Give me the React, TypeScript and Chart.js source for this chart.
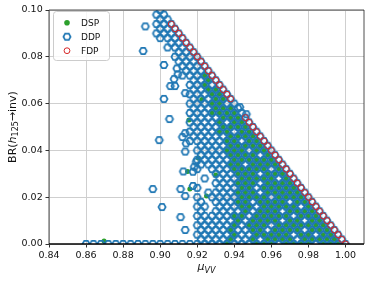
import React, { useEffect, useRef } from "react";
import { Chart, registerables } from "chart.js";

Chart.register(...registerables);

// ---- axes ----
const xRange = [0.84, 1.01];
const yRange = [0.0, 0.1];
const xTicks = [0.84, 0.86, 0.88, 0.9, 0.92, 0.94, 0.96, 0.98, 1.0];
const yTicks = [0.0, 0.02, 0.04, 0.06, 0.08, 0.1];
const seriesNames = ["DSP", "DDP", "FDP"];
const xTitleMain = "μ";
const xTitleSub = "VV";
const yTitleParts = ["BR(", "h", "125", "→inv)"];

// ---- scan lattice (rows of constant BR, cells right-anchored at the kinematic edge μ = 1 − BR) ----
// '.' empty, 'o' DDP, 'g' DDP + DSP, 'f' DDP + FDP
const latticeStep = 0.004;
const rowBR = [
  0.0, 0.002, 0.004, 0.006, 0.008, 0.01, 0.012, 0.014, 0.016, 0.018,
  0.02, 0.022, 0.024, 0.026, 0.028, 0.03, 0.032, 0.034, 0.036, 0.038,
  0.04, 0.042, 0.044, 0.046, 0.048, 0.05, 0.052, 0.054, 0.056, 0.058,
  0.06, 0.062, 0.064, 0.066, 0.068, 0.07, 0.072, 0.074, 0.076, 0.078,
  0.08, 0.082, 0.084, 0.086, 0.088, 0.09, 0.092, 0.094, 0.096, 0.098,
  0.1,
];
const gridRows = [
  "ooooooooooooooo" + "oooogooogggoggggogggf",
  "oooogoogoggggogggggf",
  "ooooogoogggggoggoggf",
  "oooogooggoggggogggf",
  "ooooogogggogggggggf",
  "ooooogoggggoggoggf",
  "oooooggogggggogggf",
  "o.oooogogggoggggf",
  "oo.oooggogggggogf",
  "o.oooggoggggoggf",
  "o.ooooggggoggggf",
  ".oooogggogggggf",
  "o..oooggogggggf",
  "..ooogggoggggf",
  ".o.ooogggggogf",
  "..ooogggogggf",
  "o.ooogggggogf",
  "ooooggoggggf",
  "oooooggggggf",
  "ooooggggogf",
  "oooogggoggf",
  "oooogggggf",
  "oooooggoggf",
  "oooooggggf",
  "ooooggoggf",
  "ooooggggf",
  "oooogoggf",
  "oooogggf",
  "oooggggo",
  "ooogggo",
  "oooggoo",
  "oooggf",
  "oooggf",
  "ooggf",
  "oogof",
  "oogf",
  "ooogf",
  "ooof",
  "ooof",
  "ooof",
  "ooof",
  "oof",
  "ooof",
  "oof",
  "ooof",
  "ooof",
  "oof",
  "oof",
  "oo",
  "oo",
  "o",
];

// ---- isolated points ----
const ddpExtraMu = [
  0.8908, 0.892, 0.902, 0.902, 0.905, 0.8995, 0.896, 0.901, 0.911, 0.911,
  0.9135, 0.9125, 0.9055, 0.908, 0.909, 0.9095, 0.9075, 0.9135, 0.912, 0.9135,
  0.9135, 0.914, 0.9135, 0.9195, 0.9184, 0.9177, 0.9177, 0.943, 0.9465,
];
const ddpExtraBr = [
  0.0825, 0.093, 0.0765, 0.062, 0.0534, 0.0444, 0.0235, 0.0158, 0.0235, 0.0115,
  0.006, 0.031, 0.0675, 0.0675, 0.075, 0.0725, 0.0705, 0.0645, 0.0457, 0.0474,
  0.0395, 0.043, 0.0205, 0.0352, 0.033, 0.0248, 0.0309, 0.0585, 0.0555,
];
const dspExtraMu = [0.8697, 0.9155, 0.9148, 0.916, 0.9206, 0.93, 0.925, 0.9225];
const dspExtraBr = [0.0013, 0.053, 0.031, 0.0235, 0.0367, 0.0295, 0.0205, 0.0618];

const colors = { dsp: "#2ca02c", ddp: "#1f77b4", fdp: "#d62728" };
const FONT = "'DejaVu Sans', sans-serif";

type P = { x: number; y: number };

function buildSeries() {
  const dsp: P[] = [];
  const ddp: P[] = [];
  const fdp: P[] = [];
  gridRows.forEach((row, k) => {
    const br = rowBR[k];
    const n = row.length;
    for (let i = 0; i < n; i++) {
      const c = row[i];
      if (c === ".") continue;
      const mu = +(1 - br - latticeStep * (n - 1 - i)).toFixed(4);
      ddp.push({ x: mu, y: br });
      if (c === "g") dsp.push({ x: mu, y: br });
      if (c === "f") fdp.push({ x: mu, y: br });
    }
  });
  ddpExtraMu.forEach((m, i) => ddp.push({ x: m, y: ddpExtraBr[i] }));
  dspExtraMu.forEach((m, i) => dsp.push({ x: m, y: dspExtraBr[i] }));
  return { dsp, ddp, fdp };
}

function makeHex(r: number, lw: number, color: string) {
  const size = 12;
  const c = document.createElement("canvas");
  c.width = size;
  c.height = size;
  const g = c.getContext("2d")!;
  const cx = size / 2;
  const cy = size / 2;
  g.beginPath();
  for (let i = 0; i < 6; i++) {
    const a = (Math.PI / 3) * i;
    const px = cx + r * Math.cos(a);
    const py = cy + r * Math.sin(a);
    if (i === 0) g.moveTo(px, py);
    else g.lineTo(px, py);
  }
  g.closePath();
  g.strokeStyle = color;
  g.lineWidth = lw;
  g.stroke();
  return c;
}

export default function App() {
  const ref = useRef<HTMLCanvasElement | null>(null);

  useEffect(() => {
    if (!ref.current) return;
    const { dsp, ddp, fdp } = buildSeries();
    const hex = makeHex(3.6, 1.7, colors.ddp);

    const decor = {
      id: "decor",
      afterDatasetsDraw(chart: any) {
        const ctx: CanvasRenderingContext2D = chart.ctx;
        const a = chart.chartArea;
        ctx.save();
        // spines
        ctx.strokeStyle = "#222";
        ctx.lineWidth = 0.8;
        ctx.beginPath();
        ctx.moveTo(a.left, a.bottom);
        ctx.lineTo(a.left, a.top);
        ctx.lineTo(a.right, a.top);
        ctx.lineTo(a.right, a.bottom);
        ctx.stroke();
        ctx.strokeStyle = "#000";
        ctx.lineWidth = 1.3;
        ctx.beginPath();
        ctx.moveTo(a.left, a.bottom);
        ctx.lineTo(a.right, a.bottom);
        ctx.stroke();

        // legend
        const bx = 53.5, by = 11.5, bw = 56, bh = 49;
        ctx.beginPath();
        (ctx as any).roundRect(bx, by, bw, bh, 3);
        ctx.fillStyle = "rgba(255,255,255,0.8)";
        ctx.fill();
        ctx.strokeStyle = "#cccccc";
        ctx.lineWidth = 1;
        ctx.stroke();
        const rowsY = [22.7, 36.7, 50.7];
        const mx = 67;
        // DSP
        ctx.beginPath();
        ctx.arc(mx, rowsY[0], 2.8, 0, Math.PI * 2);
        ctx.fillStyle = colors.dsp;
        ctx.fill();
        // DDP
        ctx.drawImage(hex, mx - hex.width / 2, rowsY[1] - hex.height / 2);
        // FDP
        ctx.beginPath();
        ctx.arc(mx, rowsY[2], 2.9, 0, Math.PI * 2);
        ctx.strokeStyle = colors.fdp;
        ctx.lineWidth = 1;
        ctx.stroke();
        ctx.fillStyle = "#111";
        ctx.font = `9px ${FONT}`;
        ctx.textBaseline = "middle";
        ctx.textAlign = "left";
        seriesNames.forEach((s, i) => ctx.fillText(s, 81, rowsY[i] + 0.5));

        // x title
        ctx.textBaseline = "alphabetic";
        const fMain = `italic 11px ${FONT}`;
        const fSub = `italic 8px ${FONT}`;
        ctx.font = fMain;
        const w1 = ctx.measureText(xTitleMain).width;
        ctx.font = fSub;
        const w2 = ctx.measureText(xTitleSub).width;
        const cx = (a.left + a.right) / 2;
        const x0 = cx - (w1 + w2) / 2;
        ctx.font = fMain;
        ctx.fillText(xTitleMain, x0, 270);
        ctx.font = fSub;
        ctx.fillText(xTitleSub, x0 + w1, 272.5);

        // y title
        const fonts = [`11px ${FONT}`, `italic 11px ${FONT}`, `8px ${FONT}`, `11px ${FONT}`];
        const dys = [0, 0, 2.5, 0];
        const widths = yTitleParts.map((t, i) => {
          ctx.font = fonts[i];
          return ctx.measureText(t).width;
        });
        const total = widths.reduce((s, w) => s + w, 0);
        ctx.translate(15.5, (a.top + a.bottom) / 2);
        ctx.rotate(-Math.PI / 2);
        let lx = -total / 2;
        yTitleParts.forEach((t, i) => {
          ctx.font = fonts[i];
          ctx.fillText(t, lx, dys[i]);
          lx += widths[i];
        });
        ctx.restore();
      },
    };

    const tickFont = { size: 9.5, family: FONT };
    const chart = new Chart(ref.current, {
      type: "scatter",
      data: {
        datasets: [
          {
            label: seriesNames[0],
            data: dsp,
            pointStyle: "circle",
            pointRadius: 2.5,
            backgroundColor: colors.dsp,
            borderColor: colors.dsp,
            borderWidth: 0,
            order: 3,
            clip: 0,
          },
          {
            label: seriesNames[1],
            data: ddp,
            pointStyle: hex as any,
            pointRadius: 3,
            backgroundColor: "rgba(0,0,0,0)",
            borderColor: colors.ddp,
            order: 2,
            clip: 0,
          },
          {
            label: seriesNames[2],
            data: fdp,
            pointStyle: "circle",
            pointRadius: 3,
            backgroundColor: "rgba(0,0,0,0)",
            borderColor: colors.fdp,
            borderWidth: 1,
            order: 1,
            clip: 0,
          },
        ] as any,
      },
      options: {
        responsive: false,
        animation: false,
        events: [],
        layout: { padding: { left: 0, right: 9, top: 10, bottom: 0 } },
        plugins: { legend: { display: false }, tooltip: { enabled: false } },
        scales: {
          x: {
            type: "linear",
            min: xRange[0],
            max: xRange[1],
            afterBuildTicks: (s: any) => {
              s.ticks = xTicks.map((v) => ({ value: v }));
            },
            afterFit: (s: any) => {
              s.height = 37;
            },
            ticks: {
              callback: (v: any) => Number(v).toFixed(2),
              font: tickFont,
              color: "#111",
              padding: 2,
              maxRotation: 0,
              autoSkip: false,
            },
            grid: { color: "#cfcfcf", lineWidth: 1, drawTicks: true, tickLength: 3.5, tickColor: "#333" },
            border: { display: false },
          },
          y: {
            type: "linear",
            min: yRange[0],
            max: yRange[1],
            afterBuildTicks: (s: any) => {
              s.ticks = yTicks.map((v) => ({ value: v }));
            },
            afterFit: (s: any) => {
              s.width = 49;
            },
            ticks: {
              callback: (v: any) => Number(v).toFixed(2),
              font: tickFont,
              color: "#111",
              padding: 2.8,
              autoSkip: false,
            },
            grid: { color: "#cfcfcf", lineWidth: 1, drawTicks: true, tickLength: 3.5, tickColor: "#333" },
            border: { display: false },
          },
        },
      } as any,
      plugins: [decor],
    });
    return () => chart.destroy();
  }, []);

  return (
    <div style={{ position: "absolute", left: 0, top: 0, width: 373, height: 281, background: "#fff" }}>
      <canvas ref={ref} width={373} height={281} style={{ display: "block" }} />
    </div>
  );
}
